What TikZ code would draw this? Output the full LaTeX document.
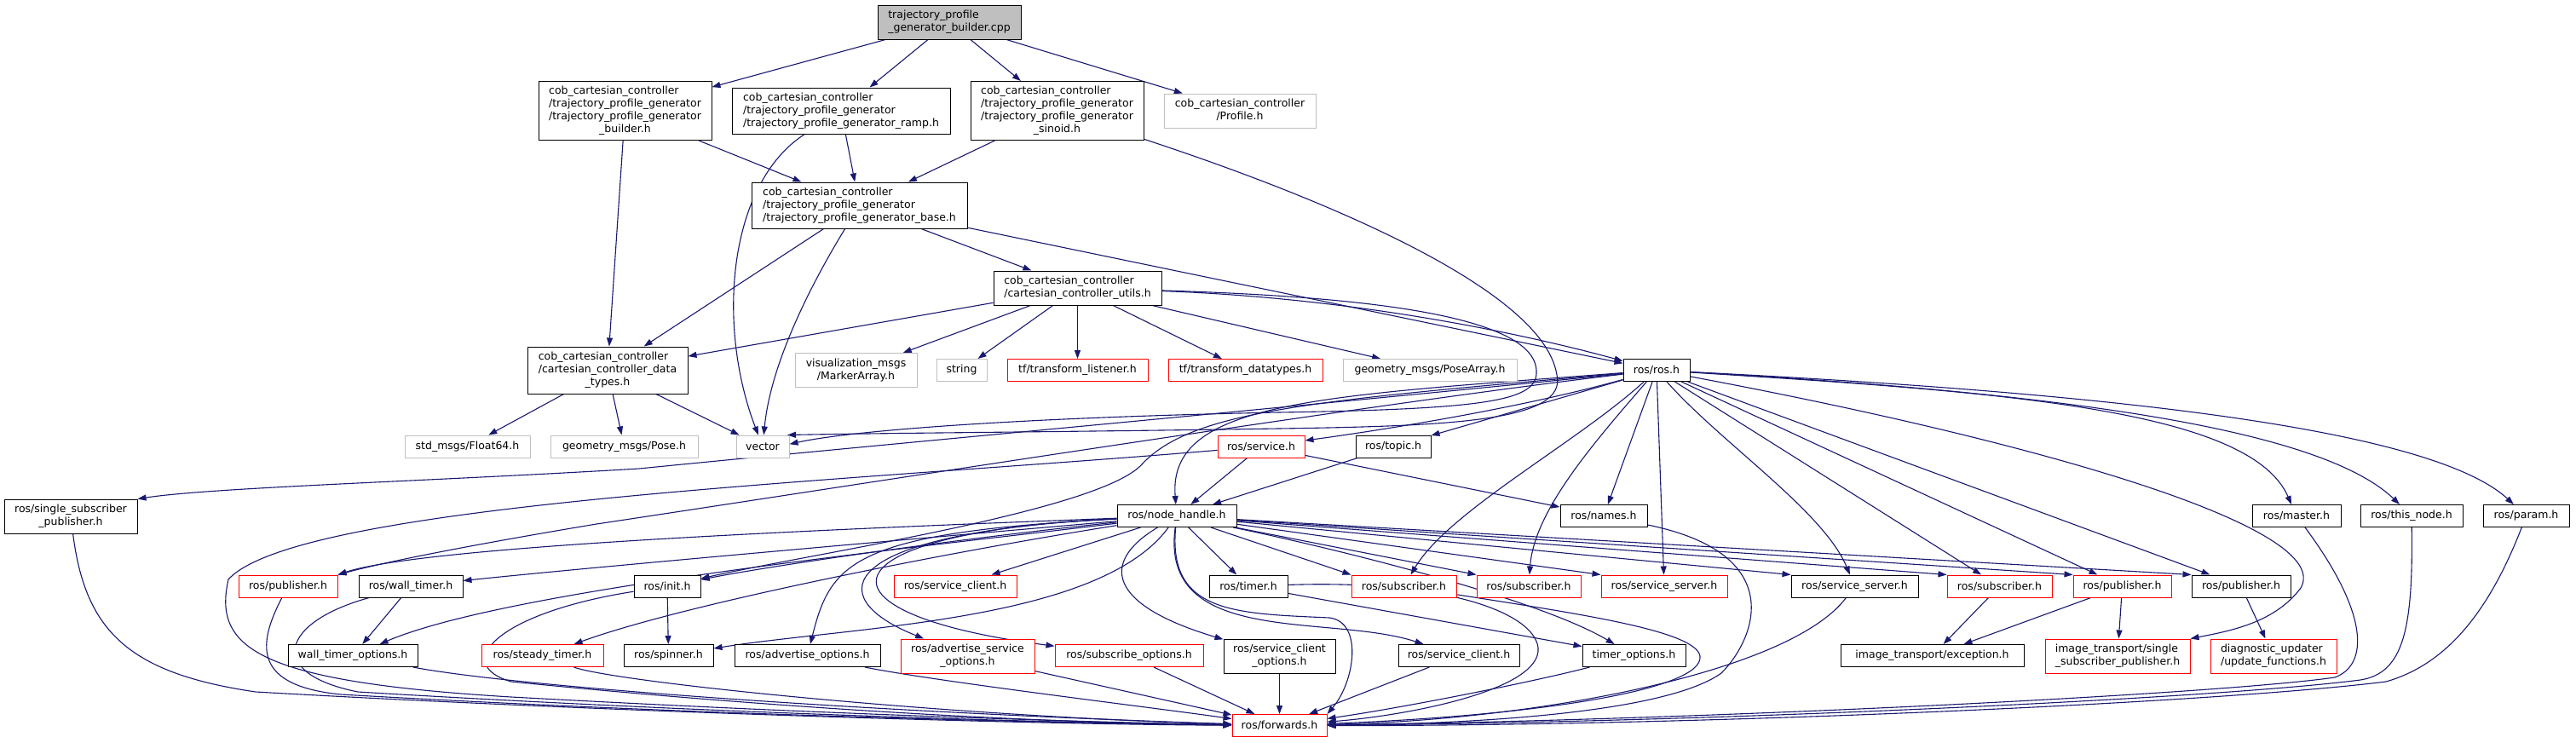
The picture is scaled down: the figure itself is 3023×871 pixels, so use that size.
\documentclass[tikz,border=0pt]{standalone}
\usepackage{fontspec}
\newfontfamily\nfont{DejaVu Sans}
\usetikzlibrary{arrows.meta,calc}
\definecolor{edgec}{HTML}{191970}
\definecolor{grayb}{HTML}{BFBFBF}
\definecolor{redb}{HTML}{FF0000}
\newcommand\nodefont{\nfont\fontsize{12.5pt}{15pt}\selectfont}
\newcommand\TL[2]{\begin{tabular}{@{}l@{}}#1\\\multicolumn{1}{@{}c@{}}{#2}\end{tabular}}
\pgfdeclarelayer{bg}
\pgfsetlayers{bg,main}
\begin{document}
\begin{tikzpicture}[x=1pt,y=-1pt,
 nd/.style={draw=black, line width=1pt, inner sep=0pt, font=\nodefont, fill=white},
 ndr/.style={nd, draw=redb},
 ndg/.style={nd, draw=grayb},
 wh/.style 2 args={minimum width=#1pt, minimum height=#2pt},
 e/.style={draw=edgec, line width=1.1pt, -{Triangle[length=10pt,width=7pt]}},
]
\useasboundingbox (0,0) rectangle (3023,871);
% nodes
\node[nd,fill=grayb,wh={168}{40}] (root) at (1114,26) {\TL{trajectory\_profile}{\_generator\_builder.cpp}};
\node[nd,wh={203}{69}] (bld) at (733.5,130) {\TL{cob\_cartesian\_controller\\/trajectory\_profile\_generator\\/trajectory\_profile\_generator}{\_builder.h}};
\node[nd,wh={256}{54}] (ramp) at (987,130) {\TL{cob\_cartesian\_controller\\/trajectory\_profile\_generator}{/trajectory\_profile\_generator\_ramp.h}};
\node[nd,wh={203}{69}] (sin) at (1240.5,130) {\TL{cob\_cartesian\_controller\\/trajectory\_profile\_generator\\/trajectory\_profile\_generator}{\_sinoid.h}};
\node[ndg,wh={178}{40}] (prof) at (1455,130) {\TL{cob\_cartesian\_controller}{/Profile.h}};
\node[nd,wh={253}{54}] (base) at (1008.5,241) {\TL{cob\_cartesian\_controller\\/trajectory\_profile\_generator}{/trajectory\_profile\_generator\_base.h}};
\node[nd,wh={197}{40}] (utils) at (1264.5,338) {\TL{cob\_cartesian\_controller}{/cartesian\_controller\_utils.h}};
\node[nd,wh={188}{55}] (dtypes) at (713,434.5) {\TL{cob\_cartesian\_controller\\/cartesian\_controller\_data}{\_types.h}};
\node[ndg,wh={143}{40}] (vis) at (1004.5,434.5) {\TL{visualization\_msgs}{/MarkerArray.h}};
\node[ndg,wh={59}{26}] (str) at (1128.5,434.5) {string};
\node[ndr,wh={165}{26}] (tfl) at (1264.5,434.5) {tf/transform\_listener.h};
\node[ndr,wh={181}{26}] (tfd) at (1461.5,434.5) {tf/transform\_datatypes.h};
\node[ndg,wh={204}{26}] (posearr) at (1678,434.5) {geometry\_msgs/PoseArray.h};
\node[nd,wh={78}{26}] (ros) at (1944,434.5) {ros/ros.h};
\node[ndg,wh={147}{26}] (f64) at (548.5,524) {std\_msgs/Float64.h};
\node[ndg,wh={173}{26}] (pose) at (732.5,524) {geometry\_msgs/Pose.h};
\node[ndg,wh={62}{26}] (vec) at (895,524) {vector};
\node[ndr,wh={102}{26}] (srv) at (1480,524) {ros/service.h};
\node[nd,wh={88}{26}] (topic) at (1635,524) {ros/topic.h};
\node[nd,wh={156}{40}] (ssp) at (83,606) {\TL{ros/single\_subscriber}{\_publisher.h}};
\node[nd,wh={140}{26}] (nh) at (1381,605.5) {ros/node\_handle.h};
\node[nd,wh={102}{26}] (names) at (1882,605.5) {ros/names.h};
\node[nd,wh={104}{26}] (master) at (2695,605.5) {ros/master.h};
\node[nd,wh={120}{26}] (thisnode) at (2830,605.5) {ros/this\_node.h};
\node[nd,wh={101}{26}] (param) at (2964.5,605.5) {ros/param.h};
\node[ndr,wh={116}{26}] (pub1) at (338,688) {ros/publisher.h};
\node[nd,wh={122}{26}] (wt) at (482,688) {ros/wall\_timer.h};
\node[nd,wh={78}{26}] (init) at (783,688) {ros/init.h};
\node[ndr,wh={144}{26}] (sc1) at (1121,688) {ros/service\_client.h};
\node[nd,wh={92}{26}] (timer) at (1465,688) {ros/timer.h};
\node[ndr,wh={123}{26}] (sub1) at (1647.5,688) {ros/subscriber.h};
\node[ndr,wh={122}{26}] (sub2) at (1794,688) {ros/subscriber.h};
\node[ndr,wh={148}{26}] (ss1) at (1953,688) {ros/service\_server.h};
\node[nd,wh={149}{26}] (ss2) at (2176.5,688) {ros/service\_server.h};
\node[ndr,wh={123}{26}] (sub3) at (2346.5,688) {ros/subscriber.h};
\node[ndr,wh={115}{26}] (pub2) at (2490.5,688) {ros/publisher.h};
\node[nd,wh={116}{26}] (pub3) at (2630,688) {ros/publisher.h};
\node[nd,wh={152}{26}] (wto) at (414,769.5) {wall\_timer\_options.h};
\node[ndr,wh={143}{26}] (steady) at (636.5,769.5) {ros/steady\_timer.h};
\node[nd,wh={105}{26}] (spin) at (784.5,769.5) {ros/spinner.h};
\node[nd,wh={171}{26}] (advo) at (947.5,769.5) {ros/advertise\_options.h};
\node[ndr,wh={157}{40}] (aso) at (1135.5,770) {\TL{ros/advertise\_service}{\_options.h}};
\node[ndr,wh={174}{26}] (subo) at (1325,769.5) {ros/subscribe\_options.h};
\node[nd,wh={131}{40}] (sco) at (1501.5,770) {\TL{ros/service\_client}{\_options.h}};
\node[nd,wh={142}{26}] (sc2) at (1712,769.5) {ros/service\_client.h};
\node[nd,wh={121}{26}] (tmo) at (1917.5,769.5) {timer\_options.h};
\node[nd,wh={215}{26}] (itex) at (2267.5,769.5) {image\_transport/exception.h};
\node[ndr,wh={170}{40}] (itssp) at (2485,770) {\TL{image\_transport/single}{\_subscriber\_publisher.h}};
\node[ndr,wh={148}{40}] (diag) at (2668,770) {\TL{diagnostic\_updater}{/update\_functions.h}};
\node[ndr,wh={111}{26}] (fwd) at (1501.5,851.5) {ros/forwards.h};
% edges
\begin{pgfonlayer}{bg}
\fill[white] (0,0) rectangle (3023,871);
\draw[e] (root) -- (bld);
\draw[e] (root) -- (ramp);
\draw[e] (root) -- (sin);
\draw[e] (root) -- (prof);
\draw[e] (bld) -- (base);
\draw[e] (bld) -- (dtypes);
\draw[e] (ramp) -- (base);
\draw[e] (ramp) .. controls (855,215) and (840,380) .. (vec);
\draw[e] (sin) -- (base);
\draw[e] (sin) .. controls (1500,215) and (1810,330) .. (1827,440) .. controls (1840,495) and (1700,500) .. (1500,503) .. controls (1250,507) and (1050,508) .. (vec.25);
\draw[e] (base) -- (dtypes);
\draw[e] (base) .. controls (960,320) and (905,420) .. (vec);
\draw[e] (base) -- (utils);
\draw[e] (base) -- (ros);
\draw[e] (utils) -- (dtypes);
\draw[e] (utils) -- (vis);
\draw[e] (utils) -- (str);
\draw[e] (utils) -- (tfl);
\draw[e] (utils) -- (tfd);
\draw[e] (utils) -- (posearr);
\draw[e] (utils) .. controls (1600,350) and (1800,395) .. (ros);
\draw[e] (utils) .. controls (1600,348) and (1800,370) .. (1803,435) .. controls (1805,470) and (1750,480) .. (1500,484) .. controls (1200,490) and (1000,505) .. (vec.5);
\draw[e] (dtypes) -- (f64);
\draw[e] (dtypes) -- (pose);
\draw[e] (dtypes) -- (vec);
% ros.h
\draw[e] (ros) .. controls (1780,480) and (1620,505) .. (srv);
\draw[e] (ros) -- (topic);
\draw[e] (ros) .. controls (1550,465) and (1370,470) .. (nh);
\draw[e] (ros) -- (names);
\draw[e] (ros) .. controls (1600,470) and (1000,525) .. (750,550) .. controls (500,565) and (250,572) .. (ssp.north east);
\draw[e] (ros) .. controls (1600,475) and (1000,570) .. (700,615) .. controls (550,640) and (450,660) .. (pub1.north east);
\draw[e] (ros) .. controls (1550,470) and (1400,480) .. (1340,545) .. controls (1290,600) and (950,650) .. (init);
\draw[e] (ros) .. controls (1850,520) and (1700,600) .. (sub1);
\draw[e] (ros) .. controls (1870,520) and (1800,600) .. (sub2);
\draw[e] (ros) -- (ss1);
\draw[e] (ros) .. controls (2020,520) and (2140,600) .. (ss2);
\draw[e] (ros) -- (sub3);
\draw[e] (ros) -- (pub2);
\draw[e] (ros) -- (pub3);
\draw[e] (ros) .. controls (2400,520) and (2740,620) .. (2700,690) .. controls (2670,730) and (2620,740) .. (itssp.north east);
\draw[e] (ros) .. controls (2350,460) and (2640,480) .. (master);
\draw[e] (ros) .. controls (2400,460) and (2720,500) .. (thisnode);
\draw[e] (ros) .. controls (2450,460) and (2850,500) .. (param);
% service / topic
\draw[e] (srv) -- (nh);
\draw[e] (srv) -- (names);
\draw[e] (srv) .. controls (1000,565) and (350,590) .. (268,680) .. controls (250,760) and (300,800) .. (600,818) .. controls (1000,840) and (1300,848) .. (fwd);
\draw[e] (topic) -- (nh);
% node_handle
\draw[e] (nh) .. controls (1000,620) and (500,640) .. (pub1.north east);
\draw[e] (nh) .. controls (1100,630) and (700,665) .. (wt);
\draw[e] (nh) .. controls (1100,640) and (600,690) .. (wto);
\draw[e] (nh) .. controls (1100,650) and (800,710) .. (steady);
\draw[e] (nh) .. controls (1100,635) and (900,665) .. (init);
\draw[e] (nh) .. controls (1290,730) and (1000,735) .. (spin);
\draw[e] (nh) .. controls (1000,625) and (975,660) .. (advo);
\draw[e] (nh) .. controls (980,625) and (960,700) .. (aso);
\draw[e] (nh) .. controls (960,625) and (940,720) .. (subo);
\draw[e] (nh) -- (sc1);
\draw[e] (nh) -- (timer);
\draw[e] (nh) .. controls (1290,660) and (1300,710) .. (sco);
\draw[e] (nh) .. controls (1360,760) and (1560,720) .. (sc2);
\draw[e] (nh) .. controls (1550,640) and (1800,700) .. (tmo);
\draw[e] (nh) .. controls (1370,720) and (1450,720) .. (1560,725) .. controls (1600,730) and (1590,800) .. (fwd.north east);
\draw[e] (nh) -- (sub1.north west);
\draw[e] (nh) -- (sub2.north west);
\draw[e] (nh) -- (ss1.north west);
\draw[e] (nh) -- (ss2.north west);
\draw[e] (nh) -- (sub3.north west);
\draw[e] (nh) -- (pub2.north west);
\draw[e] (nh) -- (pub3.north west);
% second level
\draw[e] (init) -- (spin);
\draw[e] (wt) -- (wto);
\draw[e] (timer) -- (tmo);
\draw[e] (sub3) -- (itex);
\draw[e] (pub2) -- (itex);
\draw[e] (pub2) -- (itssp);
\draw[e] (pub3) -- (diag);
% into forwards
\draw[e] (ssp) .. controls (100,740) and (150,790) .. (300,812) .. controls (700,835) and (1200,850) .. (fwd);
\draw[e] (pub1) .. controls (300,760) and (300,805) .. (400,815) .. controls (800,838) and (1200,848) .. (fwd);
\draw[e] (wt) .. controls (330,730) and (310,790) .. (420,812) .. controls (800,835) and (1200,848) .. (fwd);
\draw[e] (wto) .. controls (600,805) and (1000,835) .. (fwd);
\draw[e] (init) .. controls (580,720) and (530,780) .. (600,800) .. controls (900,830) and (1200,848) .. (fwd);
\draw[e] (steady) .. controls (720,800) and (1100,840) .. (fwd);
\draw[e] (advo) .. controls (1100,800) and (1350,830) .. (fwd);
\draw[e] (aso) -- (fwd);
\draw[e] (subo) -- (fwd);
\draw[e] (sco) -- (fwd);
\draw[e] (sc2) -- (fwd);
\draw[e] (tmo) .. controls (1800,800) and (1650,830) .. (fwd);
\draw[e] (timer) .. controls (1700,680) and (1800,720) .. (1805,760) .. controls (1810,810) and (1650,840) .. (fwd);
\draw[e] (sub1) .. controls (1850,720) and (1990,740) .. (1995,770) .. controls (2000,810) and (1800,840) .. (fwd);
\draw[e] (names) .. controls (2100,650) and (2060,750) .. (2020,790) .. controls (1950,840) and (1700,850) .. (fwd);
\draw[e] (ss2) .. controls (2100,790) and (1800,845) .. (fwd);
\draw[e] (master) .. controls (2780,720) and (2780,780) .. (2740,795) .. controls (2600,815) and (2000,845) .. (fwd);
\draw[e] (thisnode) .. controls (2832,740) and (2820,790) .. (2770,798) .. controls (2600,820) and (2000,848) .. (fwd);
\draw[e] (param) .. controls (2920,720) and (2870,780) .. (2800,800) .. controls (2600,825) and (2000,852) .. (fwd);
\end{pgfonlayer}
\end{tikzpicture}
\end{document}
